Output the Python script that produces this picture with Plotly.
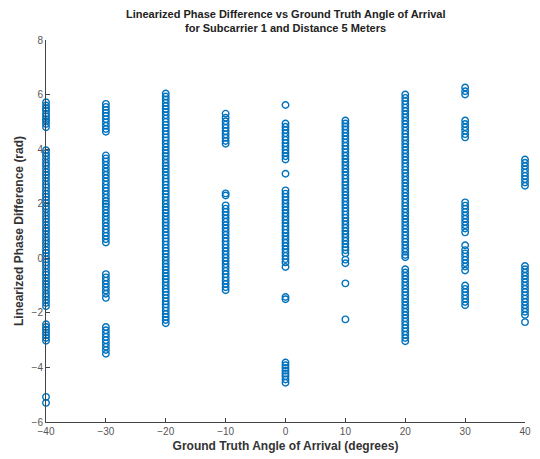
import plotly.graph_objects as go

angles = [-40, -30, -20, -10, 0, 10, 20, 30, 40]

phase_m40 = [5.72, 5.6, 5.5, 5.42, 5.3, 5.2, 5.1, 5.02, 4.92, 4.8,
             3.96, 3.85, 3.74, 3.62, 3.5, 3.4, 3.28, 3.16, 3.05, 2.94, 2.82, 2.7, 2.6, 2.48, 2.36,
             2.25, 2.14, 2.02, 1.9, 1.8, 1.68, 1.56, 1.45, 1.34, 1.22, 1.1, 1.0, 0.88, 0.76, 0.65,
             0.54, 0.42, 0.3, 0.2, 0.08, -0.04, -0.15, -0.26, -0.38, -0.5, -0.6, -0.72, -0.84,
             -0.95, -1.06, -1.18, -1.3, -1.4, -1.52, -1.64, -1.76,
             -2.42, -2.52, -2.62, -2.72, -2.82, -2.92, -3.02,
             -5.08, -5.3]
phase_m30 = [5.66, 5.55, 5.44, 5.33, 5.22, 5.1, 4.98, 4.86, 4.74, 4.64,
             3.77, 3.66, 3.55, 3.43, 3.3, 3.18, 3.06, 2.94, 2.82, 2.7, 2.58, 2.46, 2.34, 2.22,
             2.1, 2.0, 1.9, 1.78, 1.66, 1.54, 1.42, 1.3, 1.18, 1.06, 0.94, 0.82, 0.7, 0.58,
             -0.58, -0.7, -0.82, -0.94, -1.06, -1.18, -1.3, -1.45,
             -2.52, -2.64, -2.76, -2.88, -3.0, -3.12, -3.24, -3.36, -3.5]
phase_m20 = [6.04, 5.93, 5.82, 5.7, 5.58, 5.47, 5.36, 5.24, 5.12, 5.0, 4.89, 4.78, 4.66, 4.54,
             4.43, 4.32, 4.2, 4.08, 3.96, 3.85, 3.74, 3.62, 3.5, 3.39, 3.28, 3.16, 3.04, 2.92,
             2.81, 2.7, 2.58, 2.46, 2.35, 2.24, 2.12, 2.0, 1.88, 1.77, 1.66, 1.54, 1.42, 1.31,
             1.2, 1.08, 0.96, 0.84, 0.73, 0.62, 0.5, 0.38, 0.27, 0.16, 0.04, -0.08, -0.2, -0.31,
             -0.42, -0.54, -0.66, -0.77, -0.88, -1.0, -1.12, -1.23, -1.34, -1.46, -1.58, -1.69,
             -1.8, -1.92, -2.04, -2.15, -2.26, -2.38]
phase_m10 = [5.3, 5.15, 5.02, 4.9, 4.78, 4.66, 4.54, 4.42, 4.3, 4.2,
             2.38, 2.3,
             1.94, 1.82, 1.7, 1.58, 1.46, 1.34, 1.22, 1.1, 0.98, 0.86, 0.74, 0.62, 0.5, 0.38,
             0.26, 0.14, 0.02, -0.1, -0.22, -0.34, -0.46, -0.58, -0.7, -0.82, -0.94, -1.06, -1.17]
phase_0 = [5.62,
           4.94, 4.82, 4.7, 4.58, 4.46, 4.34, 4.22, 4.1, 3.98, 3.86, 3.74, 3.62,
           3.1,
           2.49, 2.37, 2.25, 2.13, 2.01, 1.89, 1.77, 1.65, 1.53, 1.41, 1.29, 1.17, 1.05, 0.93,
           0.81, 0.69, 0.57, 0.45, 0.33, 0.21, 0.09, -0.03, -0.15, -0.32,
           -1.42, -1.5,
           -3.82, -3.92, -4.02, -4.12, -4.22, -4.32, -4.44, -4.56]
phase_10 = [5.05, 4.94, 4.83, 4.72, 4.6, 4.48, 4.36, 4.24, 4.12, 4.0, 3.88, 3.76, 3.64, 3.52,
            3.4, 3.28, 3.16, 3.04, 2.92, 2.8, 2.68, 2.56, 2.44, 2.32, 2.2, 2.08, 1.96, 1.84,
            1.72, 1.6, 1.48, 1.36, 1.24, 1.12, 1.0, 0.88, 0.76, 0.64, 0.52, 0.4, 0.3, 0.18,
            -0.05, -0.18,
            -0.92,
            -2.24]
phase_20 = [6.0, 5.88, 5.76, 5.64, 5.52, 5.4, 5.28, 5.16, 5.04, 4.92, 4.8, 4.68, 4.56, 4.44,
            4.32, 4.2, 4.08, 3.96, 3.84, 3.72, 3.6, 3.48, 3.36, 3.24, 3.12, 3.0, 2.88, 2.76,
            2.64, 2.52, 2.4, 2.28, 2.16, 2.04, 1.92, 1.8, 1.68, 1.56, 1.44, 1.32, 1.2, 1.08,
            0.96, 0.84, 0.72, 0.6, 0.48, 0.36, 0.24, 0.12, 0.04,
            -0.4, -0.52, -0.64, -0.76, -0.88, -1.0, -1.12, -1.24, -1.36, -1.48, -1.6, -1.72,
            -1.84, -1.96, -2.08, -2.2, -2.32, -2.44, -2.56, -2.68, -2.8, -2.92, -3.04]
phase_30 = [6.26, 6.12, 6.0,
            5.05, 4.92, 4.8, 4.68, 4.55, 4.43,
            2.05, 1.93, 1.81, 1.69, 1.57, 1.45, 1.33, 1.21, 1.09, 0.95,
            0.48,
            0.3, 0.18, 0.06, -0.06, -0.18, -0.3, -0.45,
            -1.0, -1.12, -1.24, -1.36, -1.48, -1.6, -1.72]
phase_40 = [3.62, 3.5, 3.38, 3.26, 3.14, 3.02, 2.9, 2.78, 2.66,
            -0.28, -0.4, -0.52, -0.64, -0.76, -0.88, -1.0, -1.12, -1.24, -1.36, -1.48, -1.6,
            -1.72, -1.84, -1.96, -2.08,
            -2.34]

columns = [phase_m40, phase_m30, phase_m20, phase_m10, phase_0,
           phase_10, phase_20, phase_30, phase_40]

title_lines = ["Linearized Phase Difference vs Ground Truth Angle of Arrival",
               "for Subcarrier 1 and Distance 5 Meters"]

xs, ys = [], []
for a, col in zip(angles, columns):
    xs += [a] * len(col)
    ys += col

fig = go.Figure()
fig.add_trace(go.Scatter(
    x=xs, y=ys, mode="markers", cliponaxis=False,
    marker=dict(symbol="circle-open", size=6.5, color="#0072BD",
                line=dict(width=1.4, color="#0072BD")),
    showlegend=False))

font = "Liberation Sans, Arial, sans-serif"
fig.update_layout(
    width=540, height=459,
    margin=dict(l=46, r=9, t=40, b=37),
    paper_bgcolor="white", plot_bgcolor="white",
    font=dict(family=font, size=10, color="#555555"),
)
for i, (line, yp) in enumerate(zip(title_lines, [1.068, 1.031])):
    fig.add_annotation(text="<b>" + line + "</b>", xref="paper", yref="paper",
                       x=0.5, y=yp, xanchor="center", yanchor="middle", showarrow=False,
                       font=dict(family=font, size=11, color="#222222"))

fig.update_xaxes(range=[-40, 40], tickvals=angles, ticks="inside", ticklen=4, tickcolor="#444444",
                 showline=True, linecolor="#444444", linewidth=1, showgrid=False, zeroline=False,
                 title=dict(text="<b>Ground Truth Angle of Arrival (degrees)</b>", standoff=5,
                            font=dict(family=font, size=12, color="#333333")))
fig.update_yaxes(range=[-6, 8], tickvals=[-6, -4, -2, 0, 2, 4, 6, 8], ticks="inside", ticklen=4,
                 tickcolor="#444444", showline=True, linecolor="#444444", linewidth=1,
                 showgrid=False, zeroline=False,
                 title=dict(text="<b>Linearized Phase Difference (rad)</b>", standoff=5,
                            font=dict(family=font, size=12, color="#333333")))

fig.write_html("out.html")
